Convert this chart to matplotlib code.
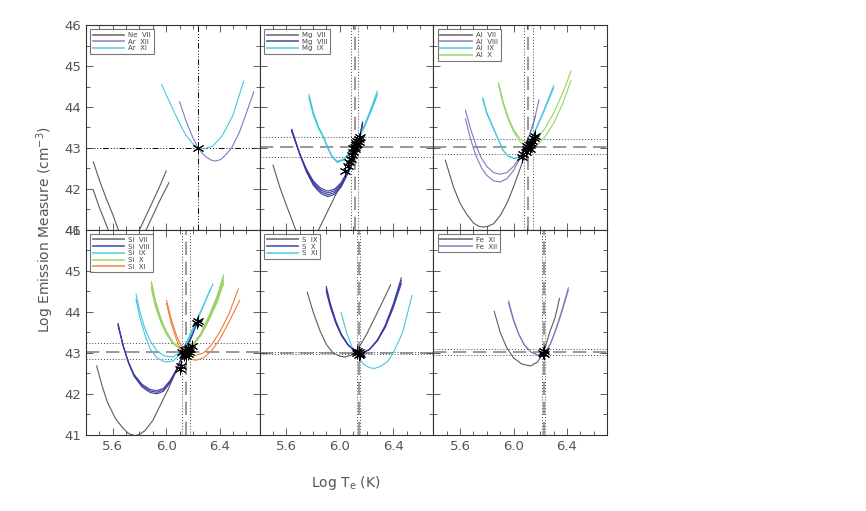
import numpy as np
import matplotlib
matplotlib.use('Agg')
import matplotlib.pyplot as plt
from matplotlib.ticker import MultipleLocator, FixedLocator

# EM loci: (log T, log EM) pairs
ne7_a = [(5.455, 42.66), (5.50, 42.22), (5.55, 41.78), (5.60, 41.38), (5.64, 41.02), (5.68, 40.75),
         (5.72, 40.6), (5.76, 40.72), (5.80, 41.0), (5.85, 41.35), (5.90, 41.7), (5.95, 42.05), (6.0, 42.44)]
ne7_b = [(5.455, 41.97), (5.50, 41.55), (5.567, 41.0), (5.64, 40.5), (5.71, 40.3), (5.78, 40.5),
         (5.85, 41.0), (5.90, 41.35), (5.95, 41.7), (6.02, 42.15)]
ar12 = [(6.10, 44.13), (6.15, 43.65), (6.20, 43.25), (6.24, 43.0), (6.27, 42.87), (6.30, 42.78),
        (6.34, 42.7), (6.37, 42.68), (6.41, 42.72), (6.45, 42.85), (6.49, 43.0), (6.55, 43.4),
        (6.60, 43.85), (6.656, 44.37)]
ar11 = [(5.966, 44.55), (6.0, 44.3), (6.05, 43.95), (6.10, 43.6), (6.15, 43.3), (6.20, 43.1),
        (6.24, 43.0), (6.29, 42.98), (6.35, 43.05), (6.42, 43.3), (6.50, 43.8), (6.58, 44.63)]

mg7 = [(5.50, 42.58), (5.55, 42.05), (5.60, 41.6), (5.67, 41.0), (5.75, 40.7), (5.84, 41.0),
       (5.90, 41.4), (5.96, 41.8), (6.03, 42.25)]
mg8 = [(5.64, 43.43), (5.70, 42.85), (5.75, 42.45), (5.80, 42.15), (5.83, 42.04), (5.86, 41.95),
       (5.91, 41.88), (5.96, 41.93), (6.01, 42.1), (6.05, 42.35), (6.09, 42.6), (6.13, 42.95), (6.17, 43.6)]
mg9 = [(5.77, 44.25), (5.80, 43.85), (5.84, 43.5), (5.88, 43.25), (5.91, 43.0), (5.94, 42.8),
       (5.98, 42.66), (6.03, 42.72), (6.08, 42.9), (6.13, 43.15), (6.18, 43.5), (6.23, 43.9), (6.28, 44.33)]

al7 = [(5.49, 42.70), (5.55, 42.05), (5.60, 41.65), (5.65, 41.38), (5.70, 41.17), (5.74, 41.09),
       (5.776, 41.07), (5.81, 41.09), (5.85, 41.15), (5.90, 41.35), (5.95, 41.65), (6.00, 42.05),
       (6.05, 42.5), (6.08, 42.8)]
al8_a = [(5.64, 43.92), (5.68, 43.45), (5.72, 43.05), (5.76, 42.75), (5.80, 42.55), (5.85, 42.4),
         (5.90, 42.36), (5.95, 42.4), (6.00, 42.55), (6.05, 42.8), (6.10, 43.15), (6.15, 43.6), (6.19, 44.17)]
al8_b = [(5.64, 43.71), (5.68, 43.2), (5.72, 42.8), (5.76, 42.52), (5.80, 42.33), (5.85, 42.2),
         (5.90, 42.17), (5.95, 42.25), (6.00, 42.45), (6.05, 42.75), (6.10, 43.1), (6.165, 43.8)]
al9 = [(5.77, 44.21), (5.80, 43.85), (5.84, 43.55), (5.88, 43.25), (5.92, 42.95), (5.96, 42.8),
       (6.01, 42.74), (6.06, 42.82), (6.11, 43.05), (6.16, 43.4), (6.22, 43.85), (6.30, 44.49)]
al10_a = [(5.888, 44.59), (5.92, 44.15), (5.96, 43.75), (6.00, 43.45), (6.05, 43.22), (6.11, 43.12),
          (6.17, 43.2), (6.23, 43.45), (6.30, 43.85), (6.37, 44.35), (6.43, 44.88)]
al10_b = [(5.888, 44.55), (5.92, 44.1), (5.96, 43.7), (6.00, 43.4), (6.05, 43.15), (6.11, 43.02),
          (6.17, 43.05), (6.23, 43.25), (6.30, 43.6), (6.37, 44.1), (6.43, 44.65)]

si7 = [(5.48, 42.68), (5.52, 42.2), (5.56, 41.8), (5.62, 41.4), (5.68, 41.15), (5.72, 41.03),
       (5.766, 40.98), (5.80, 41.01), (5.84, 41.1), (5.90, 41.35), (5.96, 41.75), (6.02, 42.15), (6.08, 42.6)]
si8 = [(5.64, 43.69), (5.68, 43.15), (5.72, 42.75), (5.76, 42.45), (5.82, 42.2), (5.88, 42.07),
       (5.93, 42.04), (5.98, 42.1), (6.03, 42.3), (6.08, 42.6), (6.13, 43.0), (6.19, 43.4), (6.24, 43.83)]
si9_a = [(5.774, 44.44), (5.80, 44.05), (5.84, 43.6), (5.88, 43.3), (5.93, 43.05), (5.99, 42.92),
         (6.05, 42.9), (6.10, 43.0), (6.15, 43.25), (6.20, 43.6), (6.27, 44.1), (6.35, 44.68)]
si9_b = [(5.774, 44.32), (5.80, 43.9), (5.84, 43.45), (5.88, 43.1), (5.93, 42.88), (5.99, 42.78),
         (6.05, 42.8), (6.10, 42.95), (6.15, 43.2), (6.20, 43.55), (6.26, 44.0), (6.33, 44.55)]
si10 = [(5.89, 44.64), (5.92, 44.2), (5.96, 43.8), (6.00, 43.5), (6.05, 43.25), (6.10, 43.12),
        (6.15, 43.1), (6.20, 43.2), (6.26, 43.45), (6.32, 43.85), (6.38, 44.3), (6.43, 44.8)]
si11_a = [(6.003, 44.28), (6.04, 43.8), (6.08, 43.4), (6.12, 43.12), (6.17, 42.98), (6.22, 42.94),
          (6.28, 43.0), (6.34, 43.2), (6.40, 43.5), (6.47, 43.95), (6.54, 44.56)]
si11_b = [(6.003, 44.2), (6.04, 43.7), (6.08, 43.3), (6.12, 43.0), (6.17, 42.86), (6.22, 42.82),
          (6.28, 42.88), (6.34, 43.05), (6.40, 43.33), (6.47, 43.75), (6.55, 44.28)]

s9 = [(5.756, 44.48), (5.80, 44.0), (5.85, 43.55), (5.90, 43.2), (5.95, 43.0), (6.00, 42.92),
      (6.04, 42.9), (6.09, 42.95), (6.14, 43.12), (6.20, 43.45), (6.26, 43.85), (6.32, 44.25), (6.38, 44.66)]
s10 = [(5.898, 44.56), (5.93, 44.15), (5.97, 43.75), (6.01, 43.45), (6.06, 43.2), (6.11, 43.05),
       (6.167, 43.0), (6.22, 43.08), (6.28, 43.3), (6.34, 43.65), (6.40, 44.15), (6.46, 44.76)]
s11 = [(6.01, 43.98), (6.05, 43.5), (6.09, 43.15), (6.13, 42.92), (6.18, 42.72), (6.22, 42.64),
       (6.26, 42.62), (6.31, 42.68), (6.36, 42.8), (6.40, 43.0), (6.47, 43.5), (6.54, 44.40)]

fe11 = [(5.856, 44.01), (5.90, 43.5), (5.95, 43.12), (6.00, 42.88), (6.06, 42.73), (6.127, 42.68),
        (6.18, 42.78), (6.23, 43.05), (6.27, 43.5), (6.31, 43.85), (6.344, 44.33)]
fe12 = [(5.963, 44.24), (6.00, 43.8), (6.04, 43.45), (6.08, 43.2), (6.13, 43.02), (6.19, 42.94),
        (6.24, 43.0), (6.28, 43.25), (6.32, 43.6), (6.36, 44.0), (6.41, 44.56)]

# spread of the near-identical loci in a bundle (scale about log EM = 43)
bundle4 = [0.94, 0.98, 1.02, 1.06]
bundle3 = [0.96, 1.0, 1.04]
bundle2 = [0.98, 1.02]

# crossing points (asterisks)
stars_ne = [(6.24, 43.0)]
stars_mg = [(6.04, 42.45), (6.06, 42.55), (6.07, 42.65), (6.08, 42.72), (6.09, 42.82), (6.10, 42.9),
            (6.11, 42.97), (6.11, 43.03), (6.12, 43.08), (6.12, 43.13), (6.13, 43.18), (6.14, 43.22),
            (6.15, 43.28), (6.13, 43.1), (6.14, 43.15), (6.10, 43.0)]
stars_al = [(6.06, 42.78), (6.07, 42.85), (6.09, 42.9), (6.10, 42.97), (6.11, 43.02), (6.12, 43.08),
            (6.13, 43.12), (6.14, 43.18), (6.15, 43.25), (6.16, 43.3), (6.10, 43.05), (6.12, 42.98)]
stars_si = [(6.10, 42.6), (6.11, 42.67), (6.13, 42.95), (6.14, 43.0), (6.15, 43.05), (6.16, 42.98),
            (6.17, 43.02), (6.12, 43.03), (6.18, 43.1), (6.15, 42.92), (6.19, 43.18), (6.23, 43.72),
            (6.24, 43.78), (6.14, 43.08), (6.16, 43.1)]
stars_s = [(6.13, 43.0), (6.14, 43.02), (6.15, 42.98), (6.14, 42.96), (6.13, 43.04)]
stars_fe = [(6.22, 43.0), (6.23, 43.04), (6.225, 42.98)]

# temperature / EM solution lines per panel: (centre, low, high)
t_lines = [(6.24, None, None), (6.11, 6.085, 6.138), (6.11, 6.08, 6.145),
           (6.15, 6.12, 6.18), (6.14, 6.13, 6.15), (6.225, 6.215, 6.235)]
em_lines = [(43.0, None, None), (43.02, 42.78, 43.27), (43.02, 42.86, 43.21),
            (43.02, 42.84, 43.23), (43.0, 42.98, 43.03), (43.02, 42.96, 43.10)]

C_GRAY = '#5c5c5c'
C_PURP = '#7b7bc2'
C_DBLUE = '#3b3ba0'
C_CYAN = '#45c8dc'
C_GREEN = '#96d264'
C_ORANGE = '#f07a3c'

panels = [
    [('Ne  VII', C_GRAY, [ne7_a, ne7_b], None),
     ('Ar  XII', C_PURP, [ar12], None),
     ('Ar  XI', C_CYAN, [ar11], None)],
    [('Mg  VII', C_GRAY, [mg7], None),
     ('Mg  VIII', C_DBLUE, [mg8], bundle4),
     ('Mg  IX', C_CYAN, [mg9], bundle3)],
    [('Al  VII', C_GRAY, [al7], None),
     ('Al  VIII', C_PURP, [al8_a, al8_b], None),
     ('Al  IX', C_CYAN, [al9], bundle2),
     ('Al  X', C_GREEN, [al10_a, al10_b], None)],
    [('Si  VII', C_GRAY, [si7], None),
     ('Si  VIII', C_DBLUE, [si8], bundle3),
     ('Si  IX', C_CYAN, [si9_a, si9_b], None),
     ('Si  X', C_GREEN, [si10], bundle4),
     ('Si  XI', C_ORANGE, [si11_a, si11_b], None)],
    [('S  IX', C_GRAY, [s9], None),
     ('S  X', C_DBLUE, [s10], bundle3),
     ('S  XI', C_CYAN, [s11], None)],
    [('Fe  XI', C_GRAY, [fe11], None),
     ('Fe  XII', C_PURP, [fe12], bundle2)],
]
stars = [stars_ne, stars_mg, stars_al, stars_si, stars_s, stars_fe]

TXT = '#555555'
plt.rcParams['font.family'] = 'DejaVu Sans'

fig, axes = plt.subplots(2, 3, figsize=(8.66, 5.11), dpi=100, sharex=True, sharey=True)
fig.subplots_adjust(left=0.0993, right=0.701, top=0.951, bottom=0.149, wspace=0, hspace=0)

for i, ax in enumerate(axes.flat):
    handles = []
    for label, col, curves, spread in panels[i]:
        for c in curves:
            t = np.array([p[0] for p in c])
            em = np.array([p[1] for p in c])
            if spread is None:
                ax.plot(t, em, color=col, lw=0.8, zorder=2)
            else:
                for k in spread:
                    ax.plot(t, 43 + (em - 43) * k, color=col, lw=0.8, zorder=2)
        handles.append(plt.Line2D([], [], color=col, lw=1.3, alpha=0.8, label=label))

    tc, tlo, thi = t_lines[i]
    ec, elo, ehi = em_lines[i]
    if i == 0:
        ax.axvline(tc, color='black', lw=0.7, ls=(0, (6, 2, 1, 2, 1, 2, 1, 2)), zorder=1)
        ax.axhline(ec, color='black', lw=0.7, ls=(0, (6, 2, 1, 2, 1, 2, 1, 2)), zorder=1)
    else:
        for v in (tlo, thi):
            ax.axvline(v, color='#444444', lw=0.7, ls=(0, (1, 2)), zorder=1)
        for v in (elo, ehi):
            ax.axhline(v, color='#444444', lw=0.7, ls=(0, (1, 2)), zorder=1)
        ax.axvline(tc, color='#888888', lw=1.2, ls=(0, (8, 4)), zorder=1)
        ax.axhline(ec, color='#888888', lw=1.2, ls=(0, (8, 4)), zorder=1)

    st = stars[i]
    ax.scatter([p[0] for p in st], [p[1] for p in st], marker=(6, 2, 0), s=60,
               color='black', linewidths=0.7, zorder=4)

    leg = ax.legend(handles=handles, loc='upper left', fontsize=5, handlelength=4.5,
                    frameon=True, fancybox=False, borderpad=0.4, labelspacing=0.1,
                    handletextpad=0.6, borderaxespad=0.6)
    leg.get_frame().set_edgecolor('#555555')
    leg.get_frame().set_linewidth(0.8)
    for tx in leg.get_texts():
        tx.set_color('#444444')

    ax.set_xlim(5.4, 6.7)
    ax.set_ylim(41, 46)
    ax.xaxis.set_major_locator(FixedLocator([5.6, 6.0, 6.4]))
    ax.xaxis.set_minor_locator(MultipleLocator(0.1))
    ax.yaxis.set_major_locator(MultipleLocator(1))
    ax.yaxis.set_minor_locator(MultipleLocator(0.5))
    ax.tick_params(which='both', direction='in', top=True, right=True, colors='#444444',
                   labelcolor=TXT, labelsize=9.5, width=0.6)
    ax.tick_params(which='major', length=5)
    ax.tick_params(which='minor', length=3)
    for sp in ax.spines.values():
        sp.set_color('#333333')
        sp.set_linewidth(0.8)

fig.text(45 / 866, 1 - 230 / 511, 'Log Emission Measure (cm$^{-3}$)', rotation=90,
         ha='center', va='center', color=TXT, fontsize=10)
fig.text(346 / 866, 1 - 483 / 511, 'Log T$_{\\rm e}$ (K)', ha='center', va='center',
         color=TXT, fontsize=10)

fig.savefig('out.png', dpi=100)
